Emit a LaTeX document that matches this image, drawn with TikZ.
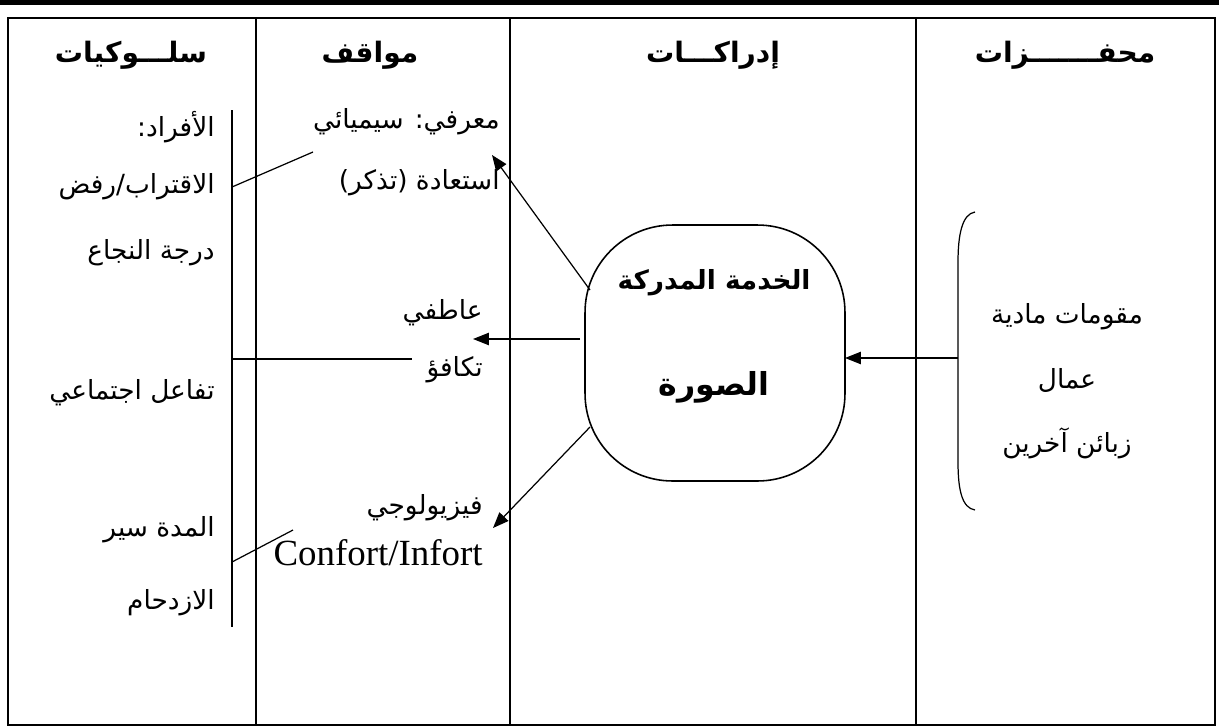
\documentclass[tikz,border=0pt]{standalone}
\usepackage{fontspec}
\usepackage{tikz}
\usetikzlibrary{arrows.meta}
\setmainfont{Liberation Serif}
\newfontfamily\arabicfont[Script=Arabic]{DejaVu Sans}
\TeXXeTstate=1
\newcommand{\artxt}[1]{{\arabicfont\beginR #1\endR}}

\begin{document}
\begin{tikzpicture}[x=0.02cm,y=-0.02cm,
  frame/.style={black, line width=1.1pt},
  thin/.style={black, line width=0.7pt},
  head/.style={font=\fontsize{16}{18}\selectfont\bfseries},
  body/.style={font=\fontsize{15}{18}\selectfont, anchor=east, inner sep=0pt},
  mid/.style={font=\fontsize{15}{18}\selectfont, inner sep=0pt},
  arr/.style={-{Triangle[length=9pt,width=7pt]}, line width=0.7pt}]
\useasboundingbox (0,0) rectangle (1219,727);
\fill[black] (0,0) rectangle (1219,5);

% table
\draw[frame] (8,18) rectangle (1215,725);
\foreach \x in {256,510,916}
  \draw[frame] (\x,18) -- (\x,725);

\node[head] (hBeh) at (131,55) {\artxt{سلـــوكيات}};
\node[head] (hAtt) at (370,55) {\artxt{مواقف}};
\node[head] (hPer) at (713,55) {\artxt{إدراكـــات}};
\node[head] (hSti) at (1065,55) {\artxt{محفـــــــزات}};

% behaviours
\node[body] (b1) at (215,127) {\artxt{الأفراد:}};
\node[body] (b2) at (215,187) {\artxt{الاقتراب/رفض}};
\node[body] (b3) at (215,253) {\artxt{درجة النجاع}};
\node[body] (b4) at (215,393) {\artxt{تفاعل اجتماعي}};
\node[body] (b5) at (215,530) {\artxt{المدة سير}};
\node[body] (b6) at (215,603) {\artxt{الازدحام}};
\coordinate (bTop) at (232,110);
\coordinate (bBot) at (232,627);
\draw[thin] (bTop) -- (bBot);

% attitudes
\node[body] (a1) at (500,122) {\artxt{معرفي: سيميائي}};
\node[body] (a2) at (500,183) {\artxt{استعادة (تذكر)}};
\node[body] (a3) at (483,313) {\artxt{عاطفي}};
\node[body] (a4) at (483,370) {\artxt{تكافؤ}};
\node[body] (a5) at (483,508) {\artxt{فيزيولوجي}};
\node[body,font=\fontsize{21}{23}\selectfont] (a6) at (483,553) {Confort/Infort};

\coordinate (l1a) at (232,187);
\coordinate (l1b) at (313,152);
\coordinate (l2a) at (232,359);
\coordinate (l2b) at (412,359);
\coordinate (l3a) at (232,562);
\coordinate (l3b) at (293,530);
\draw[thin] (l1a) -- (l1b);
\draw[thin] (l2a) -- (l2b);
\draw[thin] (l3a) -- (l3b);

% perceived image
\node[draw, line width=0.9pt, rounded corners=1.75cm,
  minimum width=5.2cm, minimum height=5.12cm] (img) at (715,353) {};
\node[font=\fontsize{15}{18}\selectfont\bfseries] (img1) at (714,283) {\artxt{الخدمة المدركة}};
\node[font=\fontsize{18}{21}\selectfont\bfseries] (img2) at (714,387) {\artxt{الصورة}};

\coordinate (o1) at (590,290);
\coordinate (t1) at (492,155);
\coordinate (o2) at (580,339);
\coordinate (t2) at (473,339);
\coordinate (o3) at (590,427);
\coordinate (t3) at (493,528);
\draw[arr] (o1) -- (t1);
\draw[arr] (o2) -- (t2);
\draw[arr] (o3) -- (t3);

% stimuli
\node[mid] (s1) at (1067,317) {\artxt{مقومات مادية}};
\node[mid] (s2) at (1067,380) {\artxt{عمال}};
\node[mid] (s3) at (1067,443) {\artxt{زبائن آخرين}};
\draw[thin] (975,212) .. controls (962,214) and (958,235) .. (958,262)
  -- (958,462) .. controls (958,490) and (962,508) .. (975,510);
\coordinate (brk) at (958,358);
\coordinate (imgE) at (845,358);
\draw[arr] (brk) -- (imgE);

\end{tikzpicture}
\end{document}
